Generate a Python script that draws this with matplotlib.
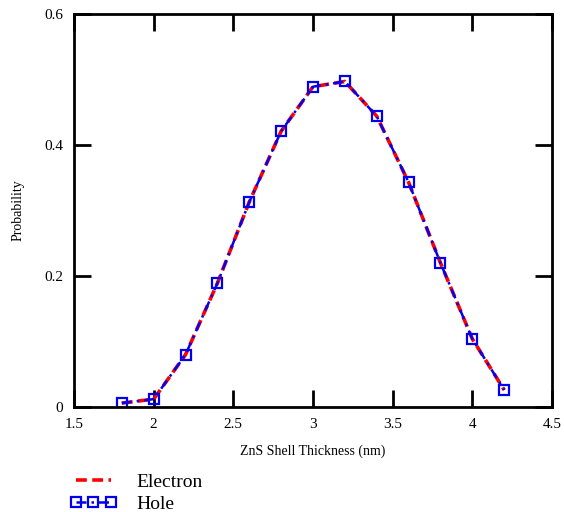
import matplotlib
matplotlib.use("Agg")
import matplotlib.pyplot as plt

thickness = [1.8, 2.0, 2.2, 2.4, 2.6, 2.8, 3.0, 3.2, 3.4, 3.6, 3.8, 4.0, 4.2]
electron = [0.006, 0.012, 0.080, 0.189, 0.313, 0.421, 0.489, 0.497, 0.444, 0.343, 0.220, 0.104, 0.026]
hole = [0.006, 0.012, 0.080, 0.189, 0.313, 0.421, 0.489, 0.497, 0.444, 0.343, 0.220, 0.104, 0.026]
xticks = [1.5, 2, 2.5, 3, 3.5, 4, 4.5]
xticklabels = ["1.5", "2", "2.5", "3", "3.5", "4", "4.5"]
yticks = [0, 0.2, 0.4, 0.6]
yticklabels = ["0", "0.2", "0.4", "0.6"]

plt.rcParams['font.family'] = ['Liberation Serif', 'DejaVu Serif']

fig = plt.figure(figsize=(5.64, 5.12), dpi=100)
ax = fig.add_axes([74/564, 105/512, 478/564, 393/512])

le, = ax.plot(thickness, electron, color='#ff0000', linestyle=(0, (3, 1.5)), linewidth=2.6, label='Electron')
lh, = ax.plot(thickness, hole, color='#0000ee', linestyle=(0, (4, 2, 1, 2)), linewidth=1.8,
              marker='s', markersize=7.5, markerfacecolor='none', markeredgecolor='#0000ee',
              markeredgewidth=1.6, label='Hole')

ax.set_xlim(1.5, 4.5)
ax.set_ylim(0, 0.6)
ax.set_xticks(xticks)
ax.set_xticklabels(xticklabels)
ax.set_yticks(yticks)
ax.set_yticklabels(yticklabels)
ax.tick_params(direction='in', length=12, width=2, top=True, right=True, labelsize=11, pad=8)
for s in ax.spines.values():
    s.set_linewidth(2)

ax.set_xlabel('ZnS Shell Thickness (nm)', fontsize=10, labelpad=10)
ax.set_ylabel('Probability', fontsize=10, labelpad=14)

fig.legend(handles=[le, lh], loc='upper left', bbox_to_anchor=(70/564, 1 - 473/512),
           frameon=False, fontsize=14, numpoints=3, handlelength=2.4, labelspacing=0.25,
           handletextpad=1.0, markerscale=0.9, borderaxespad=0, borderpad=0)

fig.savefig('out.png', dpi=100)
